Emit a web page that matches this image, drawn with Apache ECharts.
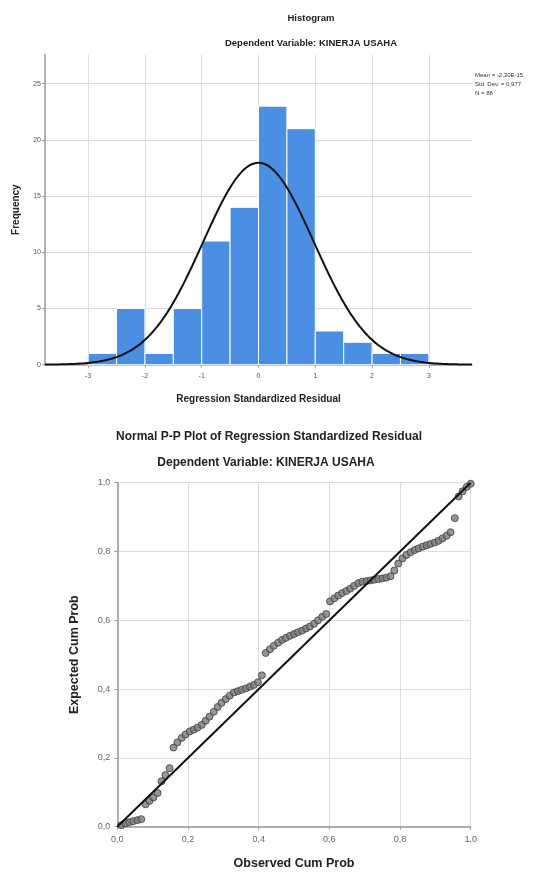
<!DOCTYPE html>
<html><head><meta charset="utf-8">
<script src="https://cdn.jsdelivr.net/npm/echarts@6/dist/echarts.min.js"></script>
<style>html,body{margin:0;padding:0;background:#fff}#c{width:539px;height:873px}</style>
</head><body><div id="c"></div>
<script>
// ---- Histogram data ----
const binStarts = [-3, -2.5, -2, -1.5, -1, -0.5, 0, 0.5, 1, 1.5, 2, 2.5];
const binCounts = [1, 5, 1, 5, 11, 14, 23, 21, 3, 2, 1, 1];
const binWidth = 0.5;
const histXTicks = [-3, -2, -1, 0, 1, 2, 3];
const histYTicks = [0, 5, 10, 15, 20, 25];
const statMean = -2.30e-15;
const statSD = 0.977;
const statN = 88;
const statLabels = ['Mean = -2,30E-15', 'Std. Dev. = 0,977', 'N = 88'];

// ---- P-P plot data ----
const ppObserved = [0.011,0.023,0.034,0.045,0.057,0.068,0.080,0.091,0.102,0.114,0.125,0.136,0.148,0.159,0.170,0.182,0.193,0.205,0.216,0.227,0.239,0.250,0.261,0.273,0.284,0.295,0.307,0.318,0.330,0.341,0.352,0.364,0.375,0.386,0.398,0.409,0.420,0.432,0.443,0.455,0.466,0.477,0.489,0.500,0.511,0.523,0.534,0.545,0.557,0.568,0.580,0.591,0.602,0.614,0.625,0.636,0.648,0.659,0.670,0.682,0.693,0.705,0.716,0.727,0.739,0.750,0.761,0.773,0.784,0.795,0.807,0.818,0.830,0.841,0.852,0.864,0.875,0.886,0.898,0.909,0.920,0.932,0.943,0.955,0.966,0.977,0.989,1.000];
const ppExpected = [0.004,0.010,0.013,0.016,0.019,0.022,
  0.065,0.075,0.085,0.098,
  0.132,0.150,0.170,
  0.230,
  0.245,0.258,0.268,0.277,0.282,0.288,
  0.296,0.308,0.320,0.334,0.348,0.360,0.371,0.381,0.390,
  0.394,0.398,0.402,0.407,0.412,0.420,0.440,
  0.505,0.516,0.526,0.535,0.543,0.549,0.555,0.560,0.565,0.570,0.576,0.582,0.590,0.600,0.610,0.618,
  0.655,0.664,0.672,0.679,0.685,0.692,0.700,0.708,
  0.712,0.714,0.716,0.718,0.720,0.722,0.724,0.728,
  0.745,0.765,0.780,0.790,0.798,0.804,0.809,0.814,0.818,0.822,0.826,0.831,0.838,
  0.846,0.856,0.897,0.960,0.975,0.988,0.997];
const ppTicks = [0, 0.2, 0.4, 0.6, 0.8, 1.0];
const diagonal = [[0, 0], [1, 1]];

const FONT = '"Liberation Sans", Arial, sans-serif';
const histXMin = -3.76, histXMax = 3.76, histYMax = 27.6;

// fitted normal curve overlay (from the chart's stated mean, SD and N)
const curve = [];
for (let x = histXMin; x <= histXMax + 1e-9; x += 0.04) {
  const z = (x - statMean) / statSD;
  curve.push([x, statN * binWidth * Math.exp(-0.5 * z * z) / (statSD * Math.sqrt(2 * Math.PI))]);
}

const histData = binStarts.map((s, i) => [s, s + binWidth, binCounts[i]]);
const ppData = ppObserved.map((x, i) => [x, ppExpected[i]]);

const gridLine = { show: true, lineStyle: { color: '#dcdcdc', width: 1 } };
const comma = v => v.toFixed(1).replace('.', ',');
const axLine = { show: true, onZero: false, lineStyle: { color: '#9a9a9a', width: 1.5 } };

const chart = echarts.init(document.getElementById('c'), null, { renderer: 'canvas' });
chart.setOption({
  animation: false,
  backgroundColor: '#fff',
  textStyle: { fontFamily: FONT },
  grid: [
    { left: 45, right: 67, top: 54.5, bottom: 508.3 },
    { left: 117.3, right: 68.3, top: 482.7, bottom: 46.3 }
  ],
  xAxis: [
    { gridIndex: 0, type: 'value', min: histXMin, max: histXMax,
      name: 'Regression Standardized Residual', nameLocation: 'middle', nameGap: 30,
      nameTextStyle: { fontFamily: FONT, fontSize: 10, fontWeight: 'bold', color: '#222' },
      axisLine: axLine,
      axisTick: { show: true, length: 3, customValues: histXTicks, lineStyle: { color: '#9a9a9a' } },
      axisLabel: { customValues: histXTicks, fontSize: 7, color: '#555', margin: 8, fontFamily: FONT },
      splitLine: gridLine },
    { gridIndex: 1, type: 'value', min: 0, max: 1, interval: 0.2,
      name: 'Observed Cum Prob', nameLocation: 'middle', nameGap: 30,
      nameTextStyle: { fontFamily: FONT, fontSize: 12.5, fontWeight: 'bold', color: '#222' },
      axisLine: axLine,
      axisTick: { show: true, length: 3, lineStyle: { color: '#9a9a9a' } },
      axisLabel: { formatter: comma, fontSize: 9, color: '#666', margin: 8, fontFamily: FONT },
      splitLine: gridLine }
  ],
  yAxis: [
    { gridIndex: 0, type: 'value', min: 0, max: histYMax,
      name: 'Frequency', nameLocation: 'middle', nameGap: 24,
      nameTextStyle: { fontFamily: FONT, fontSize: 10, fontWeight: 'bold', color: '#222' },
      axisLine: axLine,
      axisTick: { show: true, length: 3, customValues: histYTicks, lineStyle: { color: '#9a9a9a' } },
      axisLabel: { customValues: histYTicks, fontSize: 7, color: '#555', margin: 4, fontFamily: FONT },
      splitLine: gridLine },
    { gridIndex: 1, type: 'value', min: 0, max: 1, interval: 0.2,
      name: 'Expected Cum Prob', nameLocation: 'middle', nameGap: 36,
      nameTextStyle: { fontFamily: FONT, fontSize: 12.5, fontWeight: 'bold', color: '#222' },
      axisLine: axLine,
      axisTick: { show: true, length: 3, lineStyle: { color: '#9a9a9a' } },
      axisLabel: { formatter: comma, fontSize: 9, color: '#666', margin: 7, fontFamily: FONT },
      splitLine: gridLine }
  ],
  series: [
    { type: 'custom', xAxisIndex: 0, yAxisIndex: 0, data: histData,
      renderItem: function (params, api) {
        const p0 = api.coord([api.value(0), api.value(2)]);
        const p1 = api.coord([api.value(1), 0]);
        return { type: 'rect',
          shape: { x: p0[0], y: p0[1], width: p1[0] - p0[0], height: p1[1] - p0[1] },
          style: { fill: '#4a8fe3', stroke: '#ffffff', lineWidth: 1 } };
      }, z: 2 },
    { type: 'line', xAxisIndex: 0, yAxisIndex: 0, data: curve, showSymbol: false, smooth: true,
      lineStyle: { color: '#111', width: 2 }, z: 3 },
    { type: 'line', xAxisIndex: 1, yAxisIndex: 1, data: diagonal, showSymbol: false,
      lineStyle: { color: '#111', width: 2 }, z: 4 },
    { type: 'scatter', xAxisIndex: 1, yAxisIndex: 1, data: ppData, symbolSize: 7,
      itemStyle: { color: '#7c7c7c', borderColor: '#3c3c3c', borderWidth: 1 }, z: 3 }
  ],
  graphic: [
    { type: 'text', x: 311, y: 18, style: { text: 'Histogram', font: 'bold 9.5px ' + FONT, fill: '#222', textAlign: 'center', textVerticalAlign: 'middle' } },
    { type: 'text', x: 311, y: 43, style: { text: 'Dependent Variable: KINERJA USAHA', font: 'bold 9.5px ' + FONT, fill: '#222', textAlign: 'center', textVerticalAlign: 'middle' } },
    { type: 'text', x: 475, y: 75, style: { text: statLabels[0], font: '6px ' + FONT, fill: '#333', textAlign: 'left', textVerticalAlign: 'middle' } },
    { type: 'text', x: 475, y: 84, style: { text: statLabels[1], font: '6px ' + FONT, fill: '#333', textAlign: 'left', textVerticalAlign: 'middle' } },
    { type: 'text', x: 475, y: 93, style: { text: statLabels[2], font: '6px ' + FONT, fill: '#333', textAlign: 'left', textVerticalAlign: 'middle' } },
    { type: 'text', x: 269, y: 437, style: { text: 'Normal P-P Plot of Regression Standardized Residual', font: 'bold 12px ' + FONT, fill: '#222', textAlign: 'center', textVerticalAlign: 'middle' } },
    { type: 'text', x: 266, y: 463, style: { text: 'Dependent Variable: KINERJA USAHA', font: 'bold 12px ' + FONT, fill: '#222', textAlign: 'center', textVerticalAlign: 'middle' } }
  ]
});
</script>
</body></html>
